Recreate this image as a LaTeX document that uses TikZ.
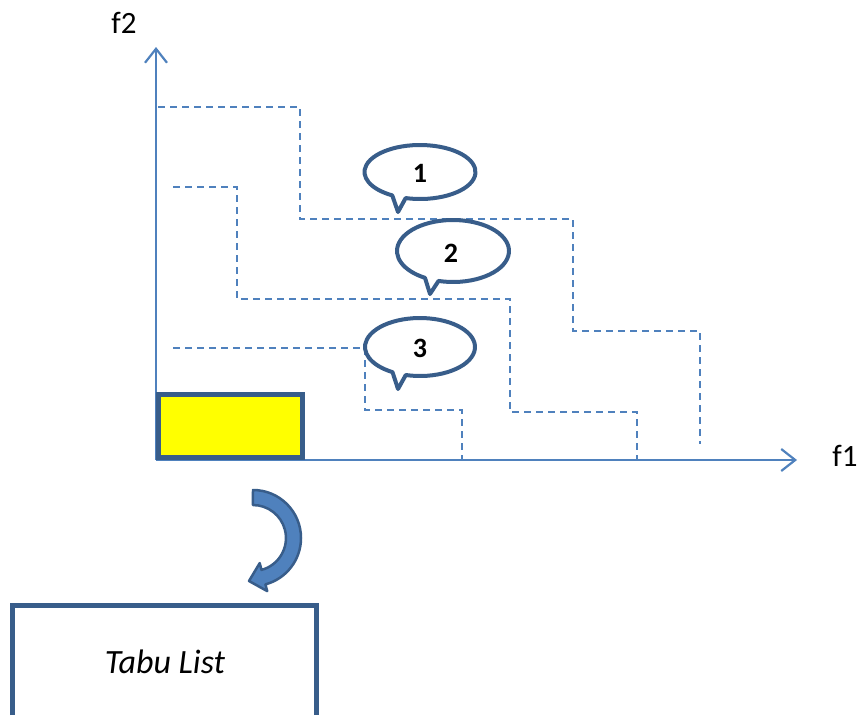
\documentclass[tikz,border=0pt]{standalone}
\usepackage{fontspec}
\setmainfont{Carlito}
\usetikzlibrary{arrows.meta}
\definecolor{axisblue}{HTML}{4F81BD}
\definecolor{darkblue}{HTML}{385D8A}
\definecolor{bestyellow}{HTML}{FFFF00}
\begin{document}
\begin{tikzpicture}[x=1pt,y=1pt,
  axis/.style={draw=axisblue,line width=2.2pt,-{Straight Barb[length=14pt,width=22pt,line width=2.2pt]}},
  frontier/.style={draw=axisblue,line width=1.9pt,dash pattern=on 7pt off 5pt},
  bubble/.style={draw=darkblue,line width=4pt,fill=white,line join=round},
  num/.style={font=\bfseries\fontsize{28}{32}\selectfont,inner sep=0pt},
  lbl/.style={font=\fontsize{31}{36}\selectfont,inner sep=0pt},
  bestbox/.style={draw=darkblue,fill=bestyellow,line width=5pt,inner sep=0pt,minimum width=143.5pt,minimum height=63pt},
  tabustyle/.style={font=\itshape\fontsize{34}{40}\selectfont,inner sep=0pt}]
\useasboundingbox (0,0) rectangle (861,-715);

% axes
\coordinate (O) at (156,-460);
\coordinate (ytop) at (156,-47);
\coordinate (xend) at (797,-460);
\draw[axis] (O) -- (ytop);
\draw[axis] (O) -- (xend);
\node[lbl] (f2) at (124,-23) {f2};
\node[lbl] (f1) at (845,-456) {f1};

% dashed fronts
\draw[frontier] (158,-107) -| (300,-219) -| (573,-331) -| (700,-444);
\draw[frontier] (173,-187) -| (237,-299) -| (510,-412) -| (637,-460);
\draw[frontier] (173,-348) -| (365,-410) -| (462,-460);

% callouts
\draw[bubble] (420,-172) ++(255:55.5 and 27) arc[start angle=255,end angle=600,x radius=55.5,y radius=27] -- (398,-212) -- cycle;
\node[num] (n1) at (420,-173) {1};
\draw[bubble] (453,-251) ++(255:56 and 31) arc[start angle=255,end angle=600,x radius=56,y radius=31] -- (430,-294) -- cycle;
\node[num] (n2) at (451,-253) {2};
\draw[bubble] (420,-347) ++(255:55 and 29) arc[start angle=255,end angle=600,x radius=55,y radius=29] -- (398,-389) -- cycle;
\node[num] (n3) at (420,-348) {3};

% best solution box
\node[bestbox,anchor=south west] (best) at (156,-460) {};

% curved arrow
\filldraw[fill=axisblue,draw=darkblue,line width=2.5pt,line join=round]
  (253,-490) arc[start angle=90,end angle=-75,radius=48]
  -- (267.2,-591.1) -- (249,-581) -- (259.7,-563.1) -- (261.5,-569.9)
  arc[start angle=-75,end angle=90,radius=33] -- cycle;

% tabu list box
\draw[darkblue,line width=5pt] (12,-715) |- (316,-605) -- (316,-715);
\node[tabustyle] (tabu) at (165,-662) {Tabu List};
\end{tikzpicture}
\end{document}
